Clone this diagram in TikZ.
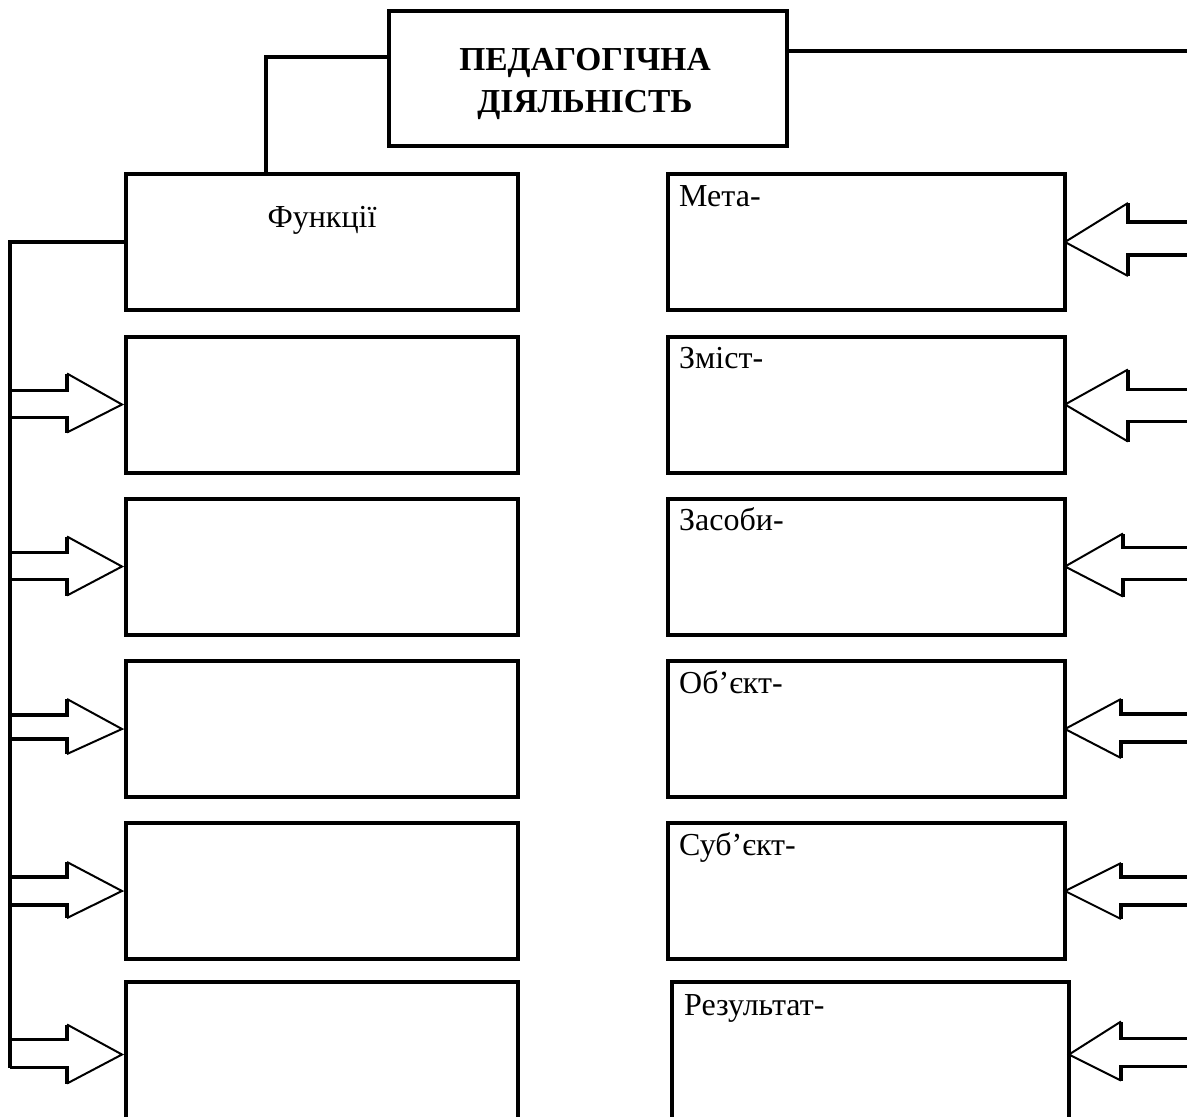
\documentclass[tikz,border=0pt]{standalone}
\usepackage{fontspec}
\setmainfont{Liberation Serif}
\usetikzlibrary{calc}
\tikzset{
  box/.style={draw, line width=4pt, rectangle, inner sep=0pt, outer sep=0pt},
  lbox/.style={box, minimum width=392pt, minimum height=136pt},
  rbox/.style={box, minimum width=397pt, minimum height=136pt},
  titlebox/.style={box, minimum width=398pt, minimum height=135pt},
  titletext/.style={align=center, inner sep=0pt,
    font=\fontsize{33.5}{42}\selectfont\bfseries},
  lbl/.style={anchor=base west, inner sep=0pt, font=\fontsize{32}{38}\selectfont},
  clbl/.style={anchor=base, inner sep=0pt, font=\fontsize{32}{38}\selectfont},
  conn/.style={line width=3.5pt},
  shaft/.style={line width=3.5pt, line join=miter},
  barb/.style={line width=2pt},
}
% #1 box, #2 barb x offset, #3 upper shaft, #4 lower shaft, #5 upper barb, #6 lower barb
\newcommand\myRarrow[6]{%
  \draw[shaft] ($(#1.east)+(140,#3)$) -- ($(#1.east)+(#2,#3)$) -- ($(#1.east)+(#2,#5)$);
  \draw[barb] ($(#1.east)+(#2,#5)$) -- (#1.east) -- ($(#1.east)+(#2,#6)$);
  \draw[shaft] ($(#1.east)+(#2,#6)$) -- ($(#1.east)+(#2,#4)$) -- ($(#1.east)+(140,#4)$);
}
\newcommand\myLarrow[6]{%
  \draw[shaft] ($(#1.west)+(-116,#3)$) -- ($(#1.west)+(#2,#3)$) -- ($(#1.west)+(#2,#5)$);
  \draw[barb] ($(#1.west)+(#2,#5)$) -- ($(#1.west)+(-4,0)$) -- ($(#1.west)+(#2,#6)$);
  \draw[shaft] ($(#1.west)+(#2,#6)$) -- ($(#1.west)+(#2,#4)$) -- ($(#1.west)+(-116,#4)$);
}
\begin{document}
\begin{tikzpicture}[x=1pt, y=-1pt]
  \useasboundingbox (0,0) rectangle (1187,1117);
  \clip (0,0) rectangle (1187,1117);
  \fill[white] (0,0) rectangle (1187,1117);

  % title
  \node[titlebox] (T) at (588,78.5) {};
  \node[titletext] (Tt) at ($(T.center)+(-3,5)$) {ПЕДАГОГІЧНА\\ДІЯЛЬНІСТЬ};

  % left column
  \node[lbox] (L1) at (322,242) {};
  \node[lbox] (L2) at (322,404.5) {};
  \node[lbox] (L3) at (322,566.5) {};
  \node[lbox] (L4) at (322,729) {};
  \node[lbox] (L5) at (322,891) {};
  \node[lbox, minimum height=145pt] (L6) at (322,1054.5) {};
  \node[clbl] (fl) at ($(L1.north)+(0,53)$) {Функції};

  % right column
  \node[rbox] (R1) at (866.5,242) {};
  \node[rbox] (R2) at (866.5,404.5) {};
  \node[rbox] (R3) at (866.5,566.5) {};
  \node[rbox] (R4) at (866.5,729) {};
  \node[rbox] (R5) at (866.5,891) {};
  \node[rbox, minimum height=145pt] (R6) at (870.5,1054.5) {};
  \node[lbl] (r1l) at ($(R1.north west)+(11,32)$) {Мета-};
  \node[lbl] (r2l) at ($(R2.north west)+(11,32)$) {Зміст-};
  \node[lbl] (r3l) at ($(R3.north west)+(11,32)$) {Засоби-};
  \node[lbl] (r4l) at ($(R4.north west)+(11,32)$) {Об’єкт-};
  \node[lbl] (r5l) at ($(R5.north west)+(11,32)$) {Суб’єкт-};
  \node[lbl] (r6l) at ($(R6.north west)+(12,33)$) {Результат-};

  % connectors from title
  \coordinate (tl) at (266,57);
  \coordinate (tr) at (1195,51);
  \draw[conn] (T.west |- tl) -| (tl |- L1.north);
  \draw[conn] (T.east |- tr) -- (tr);

  % left bus
  \coordinate (bus) at (10,0);
  \draw[conn] (L1.west) -- (bus |- L1.west) -- ($(bus |- L6.west)+(0,13)$);

  % left arrows
  \myLarrow{L2}{-59}{-14}{13}{-31}{28}
  \myLarrow{L3}{-59}{-14}{13}{-30}{29}
  \myLarrow{L4}{-59}{-14}{10}{-30}{25}
  \myLarrow{L5}{-59}{-14}{14}{-29}{27}
  \myLarrow{L6}{-59}{-15}{13}{-30}{29}

  % right arrows
  \myRarrow{R1}{63}{-20}{13}{-39}{34}
  \myRarrow{R2}{63}{-15}{17}{-35}{37}
  \myRarrow{R3}{58}{-19}{13}{-33}{30}
  \myRarrow{R4}{56}{-15}{13}{-30}{29}
  \myRarrow{R5}{56}{-14}{14}{-28}{28}
  \myRarrow{R6}{52}{-16}{12}{-33}{26}
\end{tikzpicture}
\end{document}
